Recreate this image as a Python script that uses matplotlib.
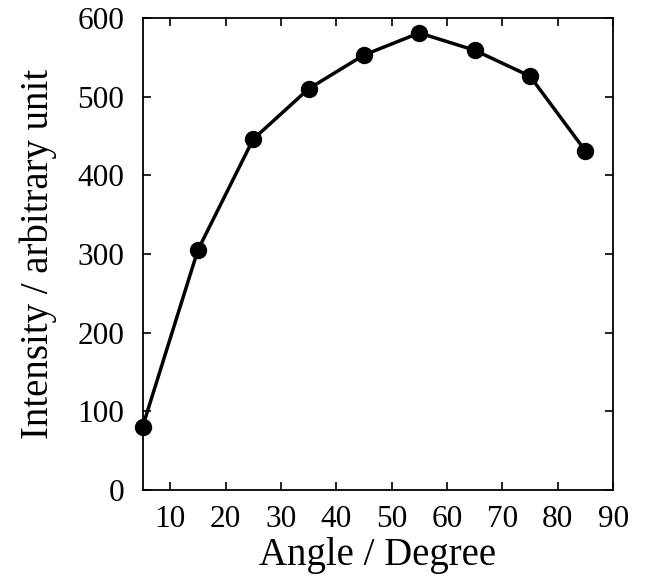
import matplotlib
matplotlib.use("Agg")
import matplotlib.pyplot as plt

# data
angle = [5, 15, 25, 35, 45, 55, 65, 75, 85]
intensity = [80, 305, 446, 510, 553, 581, 559, 526, 431]
x_ticks = [10, 20, 30, 40, 50, 60, 70, 80, 90]
y_ticks = [0, 100, 200, 300, 400, 500, 600]

plt.rcParams['font.family'] = ['Liberation Serif', 'DejaVu Serif']

fig = plt.figure(figsize=(6.46, 5.79), dpi=100)
# axes box: 142..613 px wide, 18..490 px tall
ax = fig.add_axes([0.2206, 0.1537, 0.7285, 0.8152])

ax.plot(angle, intensity, color='black', linewidth=2.5,
        marker='o', markersize=11.5, clip_on=False, zorder=3)

ax.set_xlim(5, 90)
ax.set_ylim(0, 600)
ax.set_xticks(x_ticks)
ax.set_yticks(y_ticks)

ax.tick_params(direction='in', top=True, right=True, length=6, width=1.2,
               labelsize=22.5)
ax.tick_params(axis='x', pad=11)
ax.tick_params(axis='y', pad=13)
for s in ax.spines.values():
    s.set_linewidth(1.3)

ax.set_xlabel('Angle / Degree', fontsize=28, labelpad=2)
ax.set_ylabel('Intensity / arbitrary unit', fontsize=28, labelpad=15)

fig.savefig('out.png', dpi=100)
